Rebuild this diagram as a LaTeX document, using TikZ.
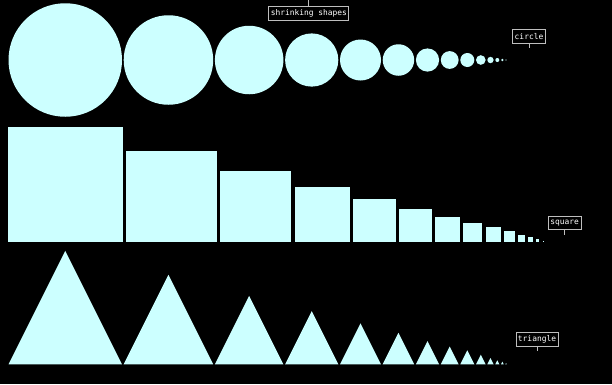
\documentclass[tikz,border=0pt]{standalone}
\usepackage{fontspec}
\setmonofont{DejaVu Sans Mono}
\definecolor{shapefill}{RGB}{204,255,255}
\definecolor{tagline}{RGB}{190,190,190}
\tikzset{
  tag/.style={draw=tagline, line width=0.8pt, fill=black, text=white,
    font=\fontsize{7.9}{9}\selectfont\ttfamily,
    inner xsep=2pt, inner ysep=0pt, minimum height=13.5pt},
  tick/.style={draw=tagline, line width=0.8pt},
}

\begin{document}
\begin{tikzpicture}[x=1pt, y=-1pt]
\fill[black] (0,0) rectangle (612,384);
\useasboundingbox (0,0) rectangle (612,384);
% circles and triangles have the same widths
\foreach \d [remember=\nx as \x (initially 8.5), evaluate=\d as \nx using {\x+\d+1.7}]
    in {113.5,89.5,68.5,53.2,41,31.5,23.2,17.8,14,9.6,6.3,4,2.7,1.3} {
  \fill[shapefill] (\x+\d/2,60) circle[radius={0.5*\d pt}];
  \fill[shapefill] (\x,364.3) -- (\x+\d/2,364.3-\d) -- (\x+\d,364.3) -- cycle;
}
% squares
\foreach \s [remember=\nx as \x (initially 8), evaluate=\s as \nx using {\x+\s+3.2}]
    in {115,91,71,55,43,33,25,19,15,11,7,5,3,1} {
  \fill[shapefill] (\x,242) rectangle ++(\s,-\s);
}
\node[tag] (title) at (308.8,13.5) {shrinking shapes};
\node[tag] (circle label) at (529,36.3) {circle};
\node[tag] (square label) at (564.7,223) {square};
\node[tag] (triangle label) at (537,339.3) {triangle};
\coordinate (title tip) at (308.8,0);
\coordinate (circle tip) at (529,48);
\coordinate (square tip) at (564.7,235);
\coordinate (triangle tip) at (537,351);
\draw[tick] (title.north) -- (title tip);
\draw[tick] (circle label.south) -- (circle tip);
\draw[tick] (square label.south) -- (square tip);
\draw[tick] (triangle label.south) -- (triangle tip);
\end{tikzpicture}
\end{document}
